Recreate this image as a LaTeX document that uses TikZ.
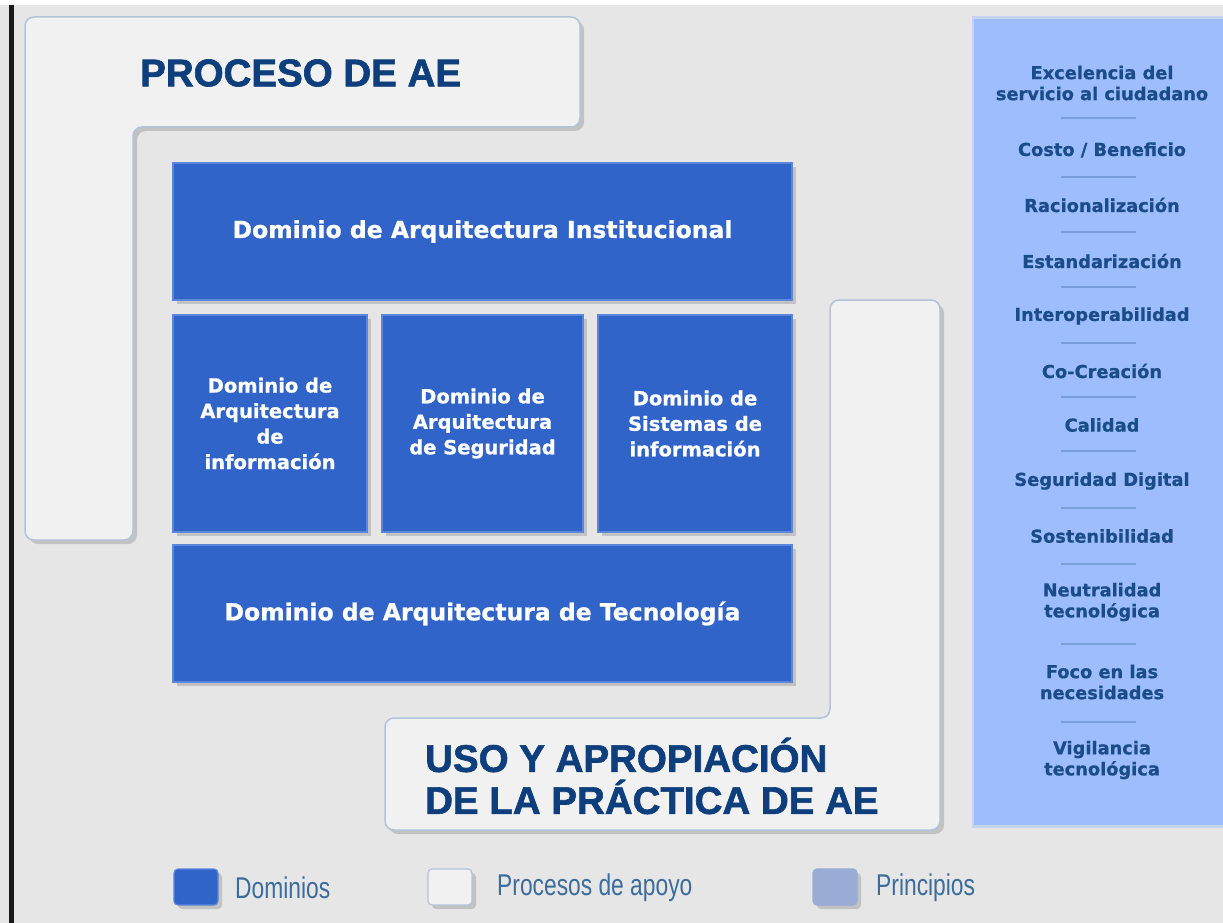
\documentclass[tikz,border=0pt]{standalone}
\usepackage{fontspec}
\setmainfont{DejaVu Sans}[BoldFeatures={FakeBold=0.8}]
\newfontfamily\titlefont{Liberation Sans}[BoldFeatures={FakeBold=1.6}]
\newfontfamily\legfont[FakeStretch=0.76]{Liberation Sans}
\definecolor{bg}{HTML}{E6E6E6}
\definecolor{domblue}{HTML}{3164C9}
\definecolor{domedge}{HTML}{5A86DC}
\definecolor{procfill}{HTML}{F1F1F1}
\definecolor{procedge}{HTML}{B4C2DC}
\definecolor{panel}{HTML}{9DBDFC}
\definecolor{paneledge}{HTML}{C4D3EF}
\definecolor{titletext}{HTML}{0E3F7C}
\definecolor{prtext}{HTML}{1B4C8A}
\definecolor{septext}{HTML}{7A9ED8}
\definecolor{legtext}{HTML}{3B6C9C}
\definecolor{legprin}{HTML}{98ACD6}
\begin{document}
\begin{tikzpicture}[x=1pt,y=-1pt,
  shad/.style={preaction={fill=black!60,opacity=0.28,transform canvas={shift={(4pt,-4pt)}}}},
  dom/.style={shad,fill=domblue,draw=domedge,line width=1.3pt,text=white,inner sep=0pt,align=center,
    font=\bfseries\fontsize{23.5}{28}\selectfont},
  domsmall/.style={dom,font=\bfseries\fontsize{19.5}{25.5}\selectfont},
  lshape/.style={shad,fill=procfill,draw=procedge,line width=1.5pt,rounded corners=9pt},
  title/.style={text=titletext,anchor=west,align=left,inner sep=0pt,
    font=\titlefont\bfseries\fontsize{38.5}{42}\selectfont},
  prin/.style={text=prtext,align=center,inner sep=0pt,font=\bfseries\fontsize{17.8}{21}\selectfont},
  sepline/.style={draw=septext,line width=2pt},
  legbox/.style={shad,rounded corners=4pt,line width=1.2pt,minimum width=44,minimum height=36,inner sep=0pt},
  legtxt/.style={text=legtext,anchor=west,inner sep=0pt,font=\legfont\fontsize{30}{32}\selectfont}
]
\useasboundingbox (0,0) rectangle (1223,923);
\fill[bg] (0,0) rectangle (1223,923);
\fill[white!96!bg] (0,0) rectangle (1223,5);
\fill[black!90] (9,5) rectangle (14,923);

% Proceso de AE L-shape
\path[lshape] (25,17) -- (580,17) -- (580,127) -- (133,127) -- (133,540) -- (25,540) -- cycle;
\node[title] (proc) at (140,73) {PROCESO DE AE};

% Uso y apropiacion L-shape
\path[lshape] (830,300) -- (940,300) -- (940,830) -- (385,830) -- (385,718) -- (830,718) -- cycle;
\node[title] (uso) at (425,776) {USO Y APROPIACIÓN\\[0pt]DE LA PRÁCTICA DE AE};

% Domains
\node[dom,minimum width=619,minimum height=137] (inst) at (482.5,231.5) {Dominio de Arquitectura Institucional};
\node[domsmall,minimum width=194,minimum height=217] (info) at (270,423.5) {Dominio de\\Arquitectura\\de\\información};
\node[domsmall,minimum width=201,minimum height=217] (segu) at (482.5,423.5) {Dominio de\\Arquitectura\\de Seguridad};
\node[domsmall,minimum width=194,minimum height=217] (sist) at (695,423.5) {Dominio de\\Sistemas de\\información};
\node[dom,minimum width=619,minimum height=137] (tecn) at (482.5,613.5) {Dominio de Arquitectura de Tecnología};

% Principles panel
\fill[paneledge] (972,16) rectangle (1223,828);
\fill[panel] (974,19) rectangle (1223,825);
\node[prin] (p1) at (1102,83) {Excelencia del\\servicio al ciudadano};
\node[prin] (p2) at (1102,150) {Costo / Beneficio};
\node[prin] (p3) at (1102,205) {Racionalización};
\node[prin] (p4) at (1102,261) {Estandarización};
\node[prin] (p5) at (1102,316) {Interoperabilidad};
\node[prin] (p6) at (1102,371) {Co-Creación};
\node[prin] (p7) at (1102,425) {Calidad};
\node[prin] (p8) at (1102,481) {Seguridad Digital};
\node[prin] (p9) at (1102,536) {Sostenibilidad};
\node[prin] (p10) at (1102,602) {Neutralidad\\tecnológica};
\node[prin] (p11) at (1102,682) {Foco en las\\necesidades};
\node[prin] (p12) at (1102,760) {Vigilancia\\tecnológica};
\foreach \yy in {118,177,232,287,343,397,451,508,564,644,722}
  \draw[sepline] (1061,\yy) -- (1136,\yy);

% Legend
\node[legbox,fill=domblue,draw=domedge] (l1) at (196,887) {};
\node[legtxt] (t1) at (235,888) {Dominios};
\node[legbox,fill=procfill,draw=procedge] (l2) at (450,887) {};
\node[legtxt] (t2) at (497,888) {Procesos de apoyo};
\node[legbox,fill=legprin,draw=legprin] (l3) at (835,887) {};
\node[legtxt] (t3) at (876,888) {Principios};
\end{tikzpicture}
\end{document}
